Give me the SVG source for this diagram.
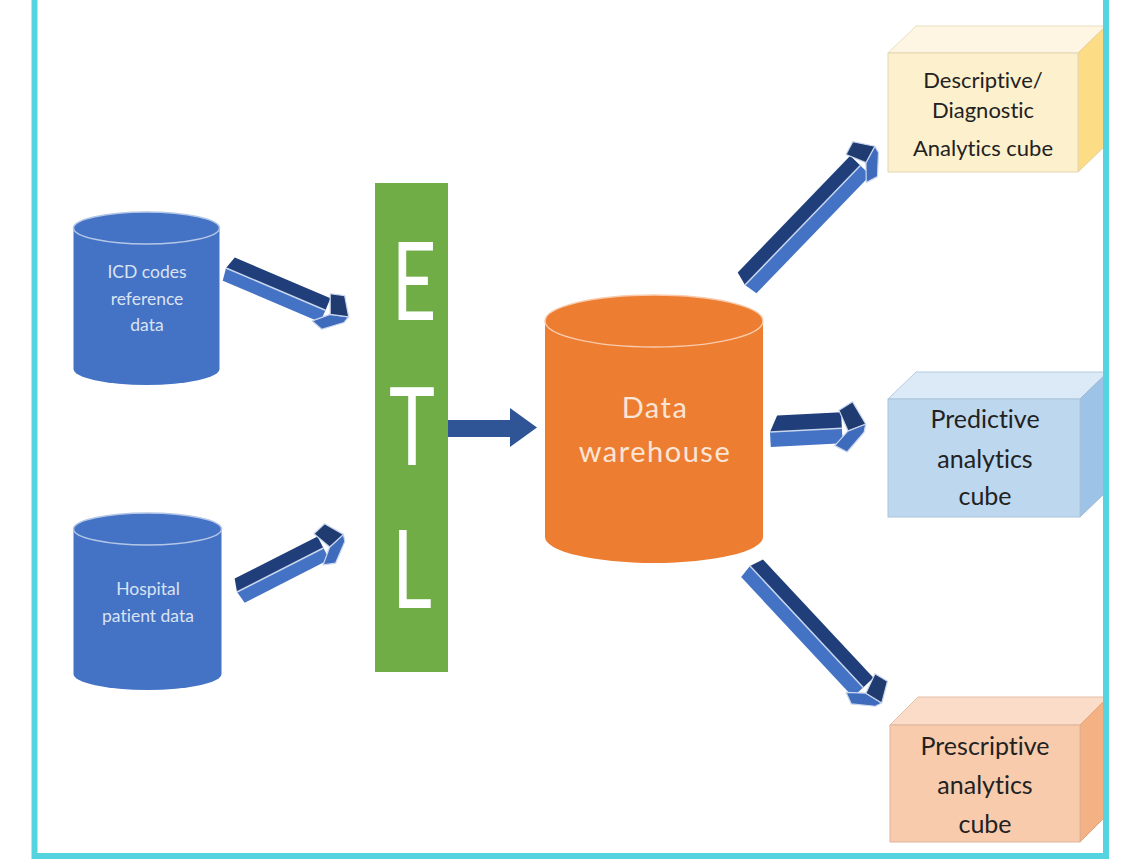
<svg xmlns="http://www.w3.org/2000/svg" width="1126" height="863" viewBox="0 0 1126 863">
<style>
text{font-variant-ligatures:none}
.cylb{fill:#4472C4}
.cylbtop{fill:#4472C4;stroke:#B4C7E7;stroke-width:1.5}
.cylo{fill:#ED7D31}
.cylotop{fill:#ED7D31;stroke:#F8CBAD;stroke-width:1.5}
.tb{font-family:Lato,"Open Sans","Liberation Sans",sans-serif;font-size:17.5px;fill:#DAE3F3;text-anchor:middle}
.to{font-family:Lato,"Open Sans","Liberation Sans",sans-serif;font-size:29px;fill:#FBE5D6;text-anchor:middle;letter-spacing:1.5px}
.tc{font-family:Lato,"Open Sans","Liberation Sans",sans-serif;font-size:25px;fill:#222222;text-anchor:middle}
.tc1{font-size:22px}
.etl{font-family:Lato,"Open Sans","Liberation Sans",sans-serif;font-weight:400;font-size:108px;fill:#FFFFFF;text-anchor:middle}
.ad{fill:#203F7A}
.al{fill:#4472C4}
.ae{stroke:#C9D6EE;stroke-width:1.5;fill:none}
.ahd{fill:#1F3B70;stroke:#C9D6EE;stroke-width:1.2;stroke-linejoin:round}
.ahl{fill:#3F6BBD;stroke:#C9D6EE;stroke-width:1.2;stroke-linejoin:round}
</style>
<rect width="1126" height="863" fill="#FFFFFF"/>

<g id="icd">
<path class="cylb" d="M73.5,228 L73.5,369 A73,16 0 0 0 219.5,369 L219.5,228 Z"/>
<ellipse class="cylbtop" cx="146.5" cy="228" rx="73" ry="16"/>
<text class="tb" x="147" y="278">ICD codes</text>
<text class="tb" x="147" y="305">reference</text>
<text class="tb" x="147" y="331">data</text>
</g>

<g id="hospital">
<path class="cylb" d="M73.5,529 L73.5,674 A74,16 0 0 0 221.5,674 L221.5,529 Z"/>
<ellipse class="cylbtop" cx="147.5" cy="529" rx="74" ry="16"/>
<text class="tb" x="148" y="595">Hospital</text>
<text class="tb" x="148" y="622">patient data</text>
</g>

<g id="etl">
<rect x="375" y="183" width="73" height="489" fill="#70AD47"/>
<text class="etl" transform="translate(414,320) scale(0.72,1)">E</text>
<text class="etl" transform="translate(412,465) scale(0.72,1)">T</text>
<text class="etl" transform="translate(412,608) scale(0.72,1)">L</text>
</g>

<g id="warehouse">
<path class="cylo" d="M545,321 L545,537 A109,26 0 0 0 763,537 L763,321 Z"/>
<ellipse class="cylotop" cx="654" cy="321" rx="109" ry="26"/>
<text class="to" x="655" y="418">Data</text>
<text class="to" x="655" y="462">warehouse</text>
</g>

<g id="cube-descriptive">
<polygon points="888,53 916,26 1106,26 1078,53" fill="#FEF6E2" stroke="#E8DDBF" stroke-width="1"/>
<polygon points="1078,53 1106,26 1106,145 1078,172" fill="#FDDC86" stroke="#E8D09A" stroke-width="1"/>
<rect x="888" y="53" width="190" height="119" fill="#FDF0CD" stroke="#E3D6B3" stroke-width="1"/>
<text class="tc tc1" x="983" y="88">Descriptive/</text>
<text class="tc tc1" x="983" y="118">Diagnostic</text>
<text class="tc tc1" x="983" y="156">Analytics cube</text>
</g>

<g id="cube-predictive">
<polygon points="888,399 916,372 1108,372 1080,399" fill="#DCE9F6" stroke="#B5CBE0" stroke-width="1"/>
<polygon points="1080,399 1108,372 1108,490 1080,517" fill="#9DC3E6" stroke="#9DB8D4" stroke-width="1"/>
<rect x="888" y="399" width="192" height="118" fill="#BDD7EE" stroke="#A9C3DC" stroke-width="1"/>
<text class="tc" x="985" y="428">Predictive</text>
<text class="tc" x="985" y="468">analytics</text>
<text class="tc" x="985" y="505">cube</text>
</g>

<g id="cube-prescriptive">
<polygon points="890,725 918,697 1108,697 1080,725" fill="#FADCC8" stroke="#E3BFA6" stroke-width="1"/>
<polygon points="1080,725 1108,697 1108,814 1080,842" fill="#F4B183" stroke="#E0A57E" stroke-width="1"/>
<rect x="890" y="725" width="190" height="117" fill="#F8CBAD" stroke="#DDB399" stroke-width="1"/>
<text class="tc" x="985" y="755">Prescriptive</text>
<text class="tc" x="985" y="794">analytics</text>
<text class="tc" x="985" y="833">cube</text>
</g>

<g id="connectors">
<g transform="translate(226,268) rotate(23)">
<polygon class="ad" points="4,-13 108,-13 108,0 0,0"/>
<polygon class="al" points="0,0 108,0 108,13 2,13"/>
<line class="ae" x1="0" y1="0" x2="108" y2="0"/>
<polygon class="ahl" points="100,15 114,2 132,-3 130,4 112,19"/>
<polygon class="ahd" points="106,-17 120,-21 132,-3 114,2"/>
</g>
<g transform="translate(237,592) rotate(-27)">
<polygon class="ad" points="4,-13 97,-13 97,0 0,0"/>
<polygon class="al" points="0,0 97,0 97,13 2,13"/>
<line class="ae" x1="0" y1="0" x2="97" y2="0"/>
<polygon class="ahl" points="89,15 103,2 121,-3 119,4 101,19"/>
<polygon class="ahd" points="95,-17 109,-21 121,-3 103,2"/>
</g>
<g transform="translate(745,285) rotate(-46)">
<polygon class="ad" points="4,-14 166,-14 166,0 0,0"/>
<polygon class="al" points="0,0 166,0 166,14 2,14"/>
<line class="ae" x1="0" y1="0" x2="166" y2="0"/>
<polygon class="ahl" points="158,16 172,2 190,-3 188,4 170,20"/>
<polygon class="ahd" points="164,-18 178,-22 190,-3 172,2"/>
</g>
<g transform="translate(770,432) rotate(-3)">
<polygon class="ad" points="8,-16 72,-16 72,0 0,0"/>
<polygon class="al" points="0,0 72,0 72,15 0,15"/>
<line class="ae" x1="0" y1="0" x2="72" y2="0"/>
<polygon class="ahl" points="64,17 78,3 96,-3 94,5 76,24"/>
<polygon class="ahd" points="70,-18 84,-26 96,-3 78,3"/>
</g>
<g transform="translate(750,566) rotate(47)">
<polygon class="ad" points="4,-14 166,-14 166,0 0,0"/>
<polygon class="al" points="0,0 166,0 166,14 2,14"/>
<line class="ae" x1="0" y1="0" x2="166" y2="0"/>
<polygon class="ahl" points="158,16 172,2 190,-3 188,4 170,20"/>
<polygon class="ahd" points="164,-18 178,-22 190,-3 172,2"/>
</g>
<polygon points="448,420 510,420 510,408 537,427.5 510,447 510,437 448,437" fill="#2F5597"/>
</g>

<rect x="34.5" y="-10" width="1071.5" height="866" fill="none" stroke="#55D4DF" stroke-width="6"/>
</svg>
